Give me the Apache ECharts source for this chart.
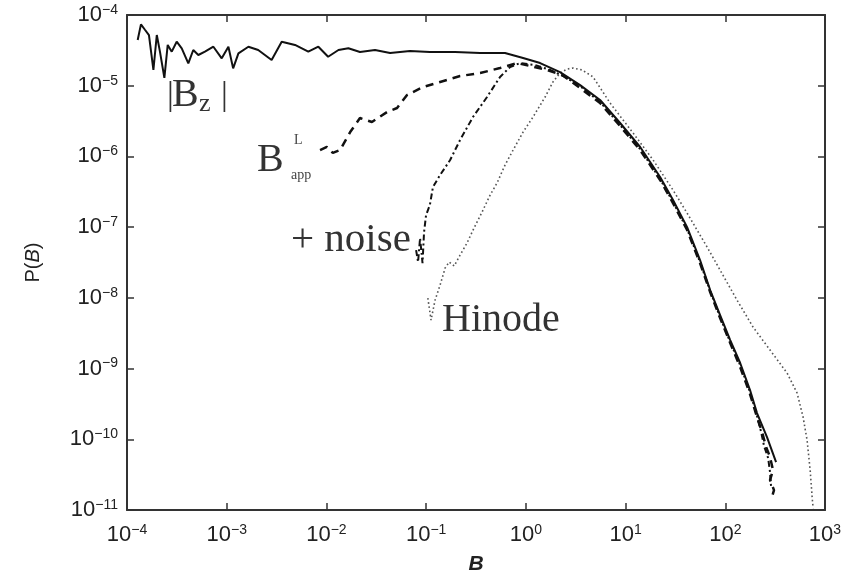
<!DOCTYPE html>
<html><head><meta charset="utf-8">
<script src="https://cdn.jsdelivr.net/npm/echarts@6/dist/echarts.min.js"></script>
<style>html,body{margin:0;padding:0;background:#fff}#c{width:852px;height:576px}</style>
</head><body><div id="c"></div>
<script>
// Tick label exponents
const xTickExps = ['\u22124','\u22123','\u22122','\u22121','0','1','2','3'];   // 1e-4 .. 1e3
const yTickExps = ['\u221211','\u221210','\u22129','\u22128','\u22127','\u22126','\u22125','\u22124']; // 1e-11 .. 1e-4

// |Bz| (solid)
const bzX = [1.28e-4,1.38e-4,1.52e-4,1.66e-4,1.84e-4,1.99e-4,2.14e-4,2.37e-4,2.56e-4,2.81e-4,
  3.15e-4,3.54e-4,4.12e-4,4.62e-4,5.19e-4,6.05e-4,7.35e-4,8.91e-4,1.04e-3,1.16e-3,
  1.31e-3,1.65e-3,2.07e-3,2.82e-3,3.56e-3,4.84e-3,6.58e-3,8.30e-3,1.04e-2,1.32e-2,
  1.66e-2,2.17e-2,3.07e-2,4.35e-2,6.89e-2,0.109,0.195,0.348,0.618,0.938,
  1.39,2.20,3.50,5.55,8.81,14.0,22.2,29.9,41.4,55.8,
  70.5,88.7,112,141,177,208,262,323];
const bzY = [4.43e-5,7.38e-5,6.14e-5,5.21e-5,1.67e-5,5.21e-5,3.03e-5,1.29e-5,3.77e-5,3.03e-5,
  4.19e-5,3.38e-5,2.07e-5,3.20e-5,2.72e-5,3.03e-5,3.56e-5,2.44e-5,3.56e-5,1.76e-5,
  2.87e-5,3.56e-5,3.20e-5,2.31e-5,4.19e-5,3.77e-5,3.03e-5,3.56e-5,2.57e-5,3.20e-5,
  3.38e-5,3.00e-5,3.20e-5,2.90e-5,3.10e-5,3.00e-5,3.00e-5,2.90e-5,2.90e-5,2.47e-5,
  2.09e-5,1.56e-5,1.02e-5,6.28e-6,2.97e-6,1.36e-6,5.12e-7,2.42e-7,1.00e-7,3.43e-8,
  1.29e-8,5.71e-9,2.53e-9,1.20e-9,4.97e-10,2.35e-10,1.07e-10,4.76e-11];

// B_app^L (dashed)
const apX = [8.63e-3,1.01e-2,1.16e-2,1.37e-2,1.73e-2,2.17e-2,2.86e-2,4.06e-2,5.11e-2,6.43e-2,
  9.31e-2,0.138,0.219,0.348,0.551,0.817,1.10,1.63,2.31,3.50,
  5.55,8.81,14.0,22.2,29.9,41.4,55.8,70.5,88.7,112,
  141,177,208,234,257,281,301,281,308,288];
const apY = [1.23e-6,1.36e-6,1.12e-6,1.23e-6,2.21e-6,3.49e-6,3.07e-6,4.25e-6,4.84e-6,7.38e-6,
  9.59e-6,1.13e-5,1.37e-5,1.51e-5,1.78e-5,2.09e-5,1.90e-5,1.67e-5,1.42e-5,9.27e-6,
  5.69e-6,2.69e-6,1.23e-6,4.64e-7,2.19e-7,9.10e-8,3.10e-8,1.21e-8,5.18e-9,2.30e-9,
  1.05e-9,4.36e-10,2.06e-10,1.26e-10,7.76e-11,5.60e-11,3.66e-11,2.65e-11,1.91e-11,1.38e-11];

// + noise (dash-dot)
const nzX = [7.93e-2,8.30e-2,8.69e-2,9.20e-2,9.53e-2,9.98e-2,0.109,0.117,0.138,0.174,
  0.219,0.295,0.408,0.551,0.695,0.875,1.24,1.75,2.47,3.50,
  5.55,8.81,14.0,22.2,29.9,41.4,55.8,70.5,88.7,112,
  141,177,208,229,245,269,281,288];
const nzY = [4.74e-8,3.21e-8,7.01e-8,3.10e-8,8.53e-8,1.48e-7,2.06e-7,3.69e-7,5.46e-7,8.89e-7,
  1.71e-6,3.61e-6,6.92e-6,1.33e-5,1.84e-5,2.09e-5,1.96e-5,1.67e-5,1.33e-5,9.90e-6,
  5.88e-6,2.78e-6,1.27e-6,4.79e-7,2.26e-7,9.40e-8,3.21e-8,1.25e-8,5.35e-9,2.37e-9,
  1.12e-9,4.66e-10,2.13e-10,1.26e-10,8.02e-11,5.42e-11,3.43e-11,2.11e-11];

// Hinode (dotted)
const hnX = [0.104,0.112,0.123,0.138,0.155,0.170,0.191,0.219,0.257,0.302,
  0.364,0.438,0.514,0.618,0.745,0.938,1.18,1.56,1.87,2.20,
  2.59,2.97,3.66,4.72,6.99,11.9,18.9,29.9,41.4,65.7,
  88.7,131,190,281,417,525,603,661,710,743,760];
const hnY = [9.93e-9,4.85e-9,9.31e-9,1.52e-8,2.64e-8,3.21e-8,2.82e-8,4.03e-8,5.96e-8,9.71e-8,
  1.64e-7,2.84e-7,4.21e-7,7.55e-7,1.23e-6,2.21e-6,3.61e-6,6.92e-6,1.13e-5,1.51e-5,
  1.72e-5,1.78e-5,1.67e-5,1.33e-5,5.69e-6,2.14e-6,8.89e-7,3.35e-7,1.58e-7,5.23e-8,
  2.47e-8,9.31e-9,3.86e-9,1.83e-9,8.63e-10,4.50e-10,2.06e-10,9.75e-11,3.66e-11,1.52e-11,
  1.06e-11];

const zip = (xs, ys) => xs.map((x, i) => [x, ys[i]]);

const SANS = '"Liberation Sans", Arial, Helvetica, sans-serif';
const SERIF = '"Liberation Serif", "Times New Roman", serif';
const AX = '#333';

const richTick = {
  b: {fontFamily: SANS, fontSize: 22, color: '#222', lineHeight: 24},
  s: {fontFamily: SANS, fontSize: 14, color: '#222', verticalAlign: 'top', lineHeight: 14}
};
function fmt(exps, minExp) {
  return v => {
    const e = Math.round(Math.log10(v));
    return '{b|10}{s|' + exps[e - minExp] + '}';
  };
}

const axisCommon = {
  type: 'log', logBase: 10,
  axisLine: {show: true, onZero: false, lineStyle: {color: AX, width: 2}},
  axisTick: {show: true, inside: true, length: 7, lineStyle: {color: AX, width: 1.5}},
  splitLine: {show: false},
  minorTick: {show: false},
  minorSplitLine: {show: false}
};

const chart = echarts.init(document.getElementById('c'), null, {renderer: 'canvas'});
chart.setOption({
  animation: false,
  backgroundColor: '#fff',
  grid: {left: 127, right: 27, top: 15, bottom: 66, containLabel: false, outerBoundsMode: 'none'},
  xAxis: [
    Object.assign({}, axisCommon, {
      position: 'bottom', min: 1e-4, max: 1e3, splitNumber: 7,
      axisLabel: {show: true, margin: 13, formatter: fmt(xTickExps, -4), rich: richTick},
      name: 'B', nameLocation: 'middle', nameGap: 44,
      nameTextStyle: {fontFamily: SANS, fontSize: 21, fontStyle: 'italic', fontWeight: 'bold', color: '#222'}
    }),
    Object.assign({}, axisCommon, {
      position: 'top', min: 1e-4, max: 1e3, splitNumber: 7,
      axisLabel: {show: false}
    })
  ],
  yAxis: [
    Object.assign({}, axisCommon, {
      position: 'left', min: 1e-11, max: 1e-4, splitNumber: 7,
      axisLabel: {show: true, margin: 9, formatter: fmt(yTickExps, -11), rich: richTick},
      name: '{n|P(}{i|B}{n|)}', nameLocation: 'middle', nameGap: 84, nameRotate: 90,
      nameTextStyle: {rich: {
        n: {fontFamily: SANS, fontSize: 20, color: '#222'},
        i: {fontFamily: SANS, fontSize: 20, fontStyle: 'italic', color: '#222'}
      }}
    }),
    Object.assign({}, axisCommon, {
      position: 'right', min: 1e-11, max: 1e-4, splitNumber: 7,
      axisLabel: {show: false}
    })
  ],
  series: [
    {type: 'line', name: '|Bz|', data: zip(bzX, bzY), showSymbol: false, symbol: 'none',
      lineStyle: {color: '#111', width: 2, type: 'solid'}, z: 5},
    {type: 'line', name: 'Bapp', data: zip(apX, apY), showSymbol: false, symbol: 'none',
      lineStyle: {color: '#111', width: 2.5, type: [8, 6]}, z: 4},
    {type: 'line', name: 'noise', data: zip(nzX, nzY), showSymbol: false, symbol: 'none',
      lineStyle: {color: '#111', width: 2, type: [6, 3, 2, 3]}, z: 3},
    {type: 'line', name: 'Hinode', data: zip(hnX, hnY), showSymbol: false, symbol: 'none',
      lineStyle: {color: '#555', width: 1.6, type: [1.6, 2.6]}, z: 2}
  ],
  graphic: [
    {type: 'text', x: 167, y: 96, style: {text: '|', font: '34px ' + SERIF, fill: '#333', verticalAlign: 'middle'}},
    {type: 'text', x: 172, y: 95, style: {text: 'B', font: '40px ' + SERIF, fill: '#333', verticalAlign: 'middle'}},
    {type: 'text', x: 199, y: 104, style: {text: 'z', font: '26px ' + SERIF, fill: '#333', verticalAlign: 'middle'}},
    {type: 'text', x: 221, y: 96, style: {text: '|', font: '34px ' + SERIF, fill: '#333', verticalAlign: 'middle'}},
    {type: 'text', x: 257, y: 160, style: {text: 'B', font: '40px ' + SERIF, fill: '#333', verticalAlign: 'middle'}},
    {type: 'text', x: 294, y: 140, style: {text: 'L', font: '14px ' + SERIF, fill: '#444', verticalAlign: 'middle'}},
    {type: 'text', x: 291, y: 175, style: {text: 'app', font: '14px ' + SERIF, fill: '#444', verticalAlign: 'middle'}},
    {type: 'text', x: 291, y: 240, style: {text: '+ noise', font: '41px ' + SERIF, fill: '#333', verticalAlign: 'middle'}},
    {type: 'text', x: 442, y: 320, style: {text: 'Hinode', font: '40px ' + SERIF, fill: '#333', verticalAlign: 'middle'}}
  ]
});
</script>
</body></html>
